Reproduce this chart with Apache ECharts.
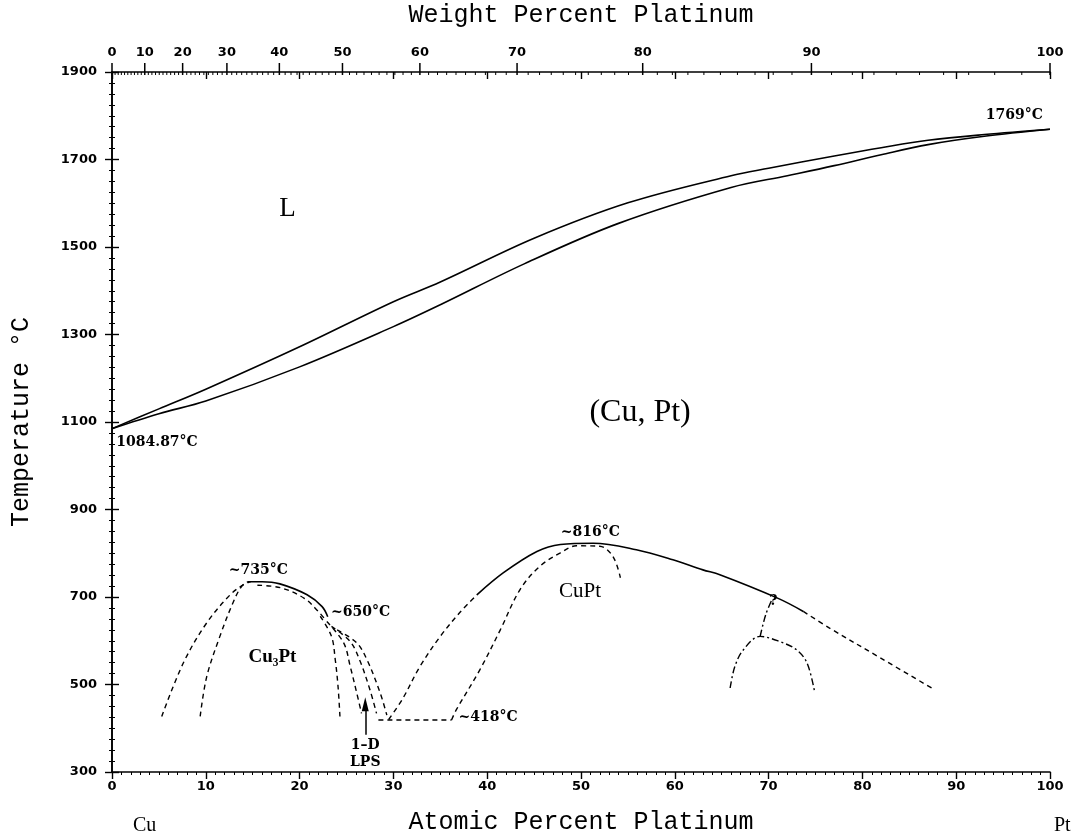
<!DOCTYPE html>
<html><head><meta charset="utf-8">
<script src="https://cdn.jsdelivr.net/npm/echarts@6/dist/echarts.min.js"></script>
<style>html,body{margin:0;padding:0;background:#fff}#c{width:1078px;height:837px}</style>
</head><body><div id="c"></div>
<script>
// ---- data (atomic % Pt, temperature °C) ----
const WT_TICK_LABELS = [0,10,20,30,40,50,60,70,80,90,100];
const WT_MINOR_TICKS = [1,2,3,4,5,6,7,8,9,11,12,13,14,15,16,17,18,19,21,22,23,24,25,26,27,28,29,31,32,33,34,35,36,37,38,39,41,42,43,44,45,46,47,48,49,51,52,53,54,55,56,57,58,59,61,62,63,64,65,66,67,68,69,71,72,73,74,75,76,77,78,79,81,82,83,84,85,86,87,88,89,91,92,93,94,95,96,97,98,99];
const M_CU = 63.546, M_PT = 195.08;

const LIQUIDUS = [[0,1084.87],[5,1130],[10,1175],[20,1272],[30,1375],[35,1420],[45,1520],[55,1601],[66,1663],[70,1680],[77,1708],[82,1727],[87,1744],[93,1757],[100,1769]];
const SOLIDUS  = [[0,1084.87],[5,1119],[10,1148],[20,1226],[30,1318],[35,1368],[44,1462],[54,1554],[66,1636],[72,1663],[77,1686],[82,1711],[87,1734],[93,1753],[100,1769]];

const CU3PT_SOLID   = [[14.5,735],[16,735],[17.9,730],[20.8,705],[22.4,678],[23,655]];
const CU3PT_TOPDASH = [[15.5,727],[18,721],[20.5,697],[22,667],[22.6,652]];
const CU3PT_OUTER_L = [[5.3,427],[7.6,549],[10.1,641],[12.6,705],[14,728],[14.8,735]];
const CU3PT_INNER_L = [[9.4,427],[10.1,518],[11.5,610],[12.9,687],[13.8,724],[14.5,735]];
const CU3PT_R1 = [[22.2,656],[23.4,610],[23.8,557],[24.1,495],[24.3,427]];
const CU3PT_R2 = [[22.9,644],[24.7,595],[25.4,541],[26.1,480],[26.6,434]];
const CU3PT_R3 = [[23.4,633],[25.4,598],[26.4,556],[27.5,488],[28.2,434]];
const CU3PT_R4 = [[24,625],[26.1,595],[27.2,556],[28.6,480],[29.3,430]];

const CUPT_SOLID  = [[38.9,705],[41.7,755],[45.3,804],[47.8,820],[51.3,823],[55.9,808],[59.8,785],[63,762],[64.8,751],[70.9,698],[73.7,667]];
const CUPT_RDASH  = [[73.7,667],[76.5,629],[81.9,561],[87.7,488]];
const CUPT_LDASH  = [[29.5,420],[31,468],[32.8,540],[35,610],[37.1,665],[38.9,705]];
const CUPT_INNER  = [[36.2,419],[36.7,442],[39.2,533],[41.4,625],[43.5,717],[45.6,770],[47.8,801],[49.5,817],[52,816],[53.4,793],[54.2,744]];
const EUTECTOID_418 = [[28.4,419],[36.2,419]];

const DASHDOT_ARCH = [[65.9,492],[66.4,541],[67.3,579],[69.1,610],[71.2,598],[73,579],[74.1,549],[74.9,484]];
const DASHDOT_VERT = [[69.1,610],[69.7,660],[70.4,696]];

const LPS_ARROW = [[27,385],[27,455]];

const PHASE_LABELS = [["L",[18.7,1586]],["(Cu, Pt)",[56.3,1122]],["Cu₃Pt",[17.1,563]],["CuPt",[49.9,712]]];
const TEMP_LABELS = [["~735°C",[15.6,760]],["~650°C",[26.5,666]],["~816°C",[51,847]],["~418°C",[40.1,424]],["1084.87°C",[4.8,1053]],["1769°C",[96.2,1802]],["1–D",[27,362]],["LPS",[27,323]],["?",[70.5,689]]];

// ---- helpers ----
function wtToAt(w){ const a=w/M_PT, b=(100-w)/M_CU; return 100*a/(a+b); }
const INK = '#000';
function ln(data, kind){
  const dash = kind==='solid' ? 'solid' : (kind==='dash' ? [5,4] : [7,3,2,3]);
  return {type:'line', data, showSymbol:false, symbol:'none', smooth:0.35, silent:true, clip:false,
    lineStyle:{color:INK, width: kind==='solid'?1.6:1.4, type:dash}, z:3};
}
const phaseSizes = [27,32,19,21];
const phaseWeights = ['normal','normal','bold','normal'];

const series = [
  ln(LIQUIDUS,'solid'), ln(SOLIDUS,'solid'),
  ln(CU3PT_SOLID,'solid'), ln(CU3PT_TOPDASH,'dash'), ln(CU3PT_OUTER_L,'dash'), ln(CU3PT_INNER_L,'dash'),
  ln(CU3PT_R1,'dash'), ln(CU3PT_R2,'dash'), ln(CU3PT_R3,'dash'), ln(CU3PT_R4,'dash'),
  ln(CUPT_SOLID,'solid'), ln(CUPT_RDASH,'dash'), ln(CUPT_LDASH,'dash'), ln(CUPT_INNER,'dash'),
  Object.assign(ln(EUTECTOID_418,'dash'),{smooth:false}),
  ln(DASHDOT_ARCH,'dashdot'), ln(DASHDOT_VERT,'dashdot'),
  {type:'line', data:[], silent:true,
   markLine:{silent:true, symbol:['none','triangle'], symbolSize:[7,14], label:{show:false},
     lineStyle:{color:INK, width:1.5, type:'solid'},
     data:[[{coord:LPS_ARROW[0]},{coord:LPS_ARROW[1]}]]}},
  {type:'scatter', symbolSize:1, silent:true, z:5, itemStyle:{opacity:0},
   data: PHASE_LABELS.map(([t,p],i)=>({name:t, value:p, label:{fontSize:phaseSizes[i], fontWeight:phaseWeights[i]}})),
   label:{show:true, position:'inside', formatter:'{b}', color:INK, opacity:1, fontFamily:'Liberation Serif'},
   emphasis:{disabled:true}
  },
  {type:'scatter', symbolSize:1, silent:true, z:5, itemStyle:{opacity:0},
   data: TEMP_LABELS.map(([t,p])=>({name:t, value:p})),
   label:{show:true, position:'inside', formatter:'{b}', color:INK, opacity:1, fontFamily:'DejaVu Serif',
     fontSize:14, fontWeight:'bold'},
   emphasis:{disabled:true}
  },
  {type:'custom', silent:true, clip:false, z:6,
   data: WT_TICK_LABELS.map(w=>[wtToAt(w),1900,w]), encode:{x:0,y:1},
   renderItem:(params, api)=>{
     const p = api.coord([api.value(0), api.value(1)]);
     return {type:'group', children:[
       {type:'line', shape:{x1:p[0],y1:p[1]+3,x2:p[0],y2:p[1]-9}, style:{stroke:INK, lineWidth:1.5}},
       {type:'text', style:{text:String(api.value(2)), x:p[0], y:p[1]-13, align:'center', verticalAlign:'bottom',
         fontSize:13, fontFamily:'DejaVu Sans', fontWeight:'bold', fill:INK}}
     ]};
   }},
  {type:'custom', silent:true, clip:false, z:6,
   data: WT_MINOR_TICKS.map(w=>[wtToAt(w),1900]), encode:{x:0,y:1},
   renderItem:(params, api)=>{
     const p = api.coord([api.value(0), api.value(1)]);
     return {type:'line', shape:{x1:p[0],y1:p[1],x2:p[0],y2:p[1]+3}, style:{stroke:INK, lineWidth:1}};
   }}
];

const axisFont = {fontFamily:'DejaVu Sans', fontSize:13, fontWeight:'bold', color:INK};
const nameFont = {fontFamily:'Liberation Mono', fontSize:25, color:INK};

const option = {
  animation:false,
  backgroundColor:'#fff',
  grid:{left:112, right:28, top:72, bottom:65, containLabel:false, outerBoundsMode:'none'},
  xAxis:[
    {type:'value', position:'bottom', min:0, max:100, interval:10,
     name:'Atomic Percent Platinum', nameLocation:'middle', nameGap:38, nameTextStyle:nameFont,
     axisLine:{show:true, lineStyle:{color:INK, width:1.6}},
     axisTick:{show:true, inside:false, length:7, lineStyle:{color:INK, width:1.4}},
     minorTick:{show:true, splitNumber:10, length:3, lineStyle:{color:INK, width:1}},
     axisLabel:Object.assign({margin:8, formatter:v=>String(v)}, axisFont), splitLine:{show:false}},
    {type:'value', position:'top', min:0, max:100, interval:10,
     name:'Weight Percent Platinum', nameLocation:'middle', nameGap:44, nameTextStyle:nameFont,
     axisLine:{show:true, lineStyle:{color:INK, width:1.6}},
     axisTick:{show:true, inside:true, length:7, lineStyle:{color:INK, width:1.4}},
     axisLabel:{show:false}, splitLine:{show:false}}
  ],
  yAxis:[
    {type:'value', position:'left', min:300, max:1900, interval:200,
     name:'Temperature °C', nameLocation:'middle', nameGap:78, nameTextStyle:nameFont,
     axisLine:{show:true, lineStyle:{color:INK, width:1.6}},
     axisTick:{show:true, inside:false, length:7, lineStyle:{color:INK, width:1.4}},
     minorTick:{show:true, splitNumber:8, length:3, lineStyle:{color:INK, width:1}},
     axisLabel:Object.assign({margin:15, formatter:v=>String(v)}, axisFont), splitLine:{show:false}},
    {type:'value', position:'right', min:300, max:1900, interval:200,
     axisLine:{show:true, lineStyle:{color:INK, width:1.6}},
     axisTick:{show:true, inside:false, length:7, lineStyle:{color:INK, width:1.4}},
     minorTick:{show:true, splitNumber:8, length:3, lineStyle:{color:INK, width:1}},
     axisLabel:{show:false}, splitLine:{show:false}}
  ],
  graphic:[
    {type:'text', left:133, top:816, style:{text:'Cu', fontFamily:'Liberation Serif', fontSize:20, fill:INK}},
    {type:'text', left:1054, top:816, style:{text:'Pt', fontFamily:'Liberation Serif', fontSize:20, fill:INK}}
  ],
  series
};
const chart = echarts.init(document.getElementById('c'), null, {renderer:'canvas'});
chart.setOption(option);
</script></body></html>
